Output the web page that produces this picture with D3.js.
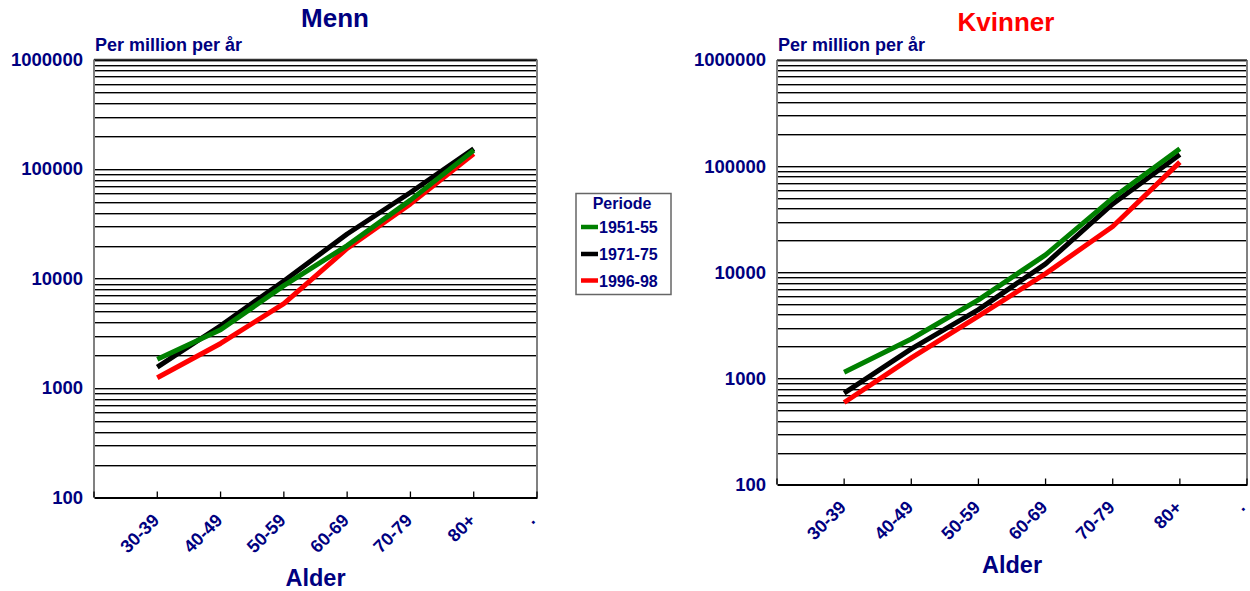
<!DOCTYPE html>
<html><head><meta charset="utf-8">
<script src="https://cdn.jsdelivr.net/npm/d3@7"></script>
<style>
html,body{margin:0;padding:0;background:#fff;}
svg text{font-family:"Liberation Sans",Arial,sans-serif;font-weight:bold;}
</style></head>
<body><svg id="c" width="1250" height="591"></svg>
<script>
const ageGroups = ["30-39","40-49","50-59","60-69","70-79","80+"];
const tickLabels = ["30-39","40-49","50-59","60-69","70-79","80+","."];
const periods = ["1951-55","1971-75","1996-98"];
const periodColors = ["#008000","#000000","#ff0000"];
const yTickValues = [100,1000,10000,100000,1000000];

const menn1951 = [1830, 3400, 8600, 20000, 52000, 148000];
const menn1971 = [1550, 3700, 9500, 25500, 61000, 153000];
const menn1996 = [1240, 2550, 5900, 18800, 48000, 138000];

const kvinner1951 = [1140, 2350, 5500, 14600, 50000, 146000];
const kvinner1971 = [725, 1900, 4450, 12000, 44000, 129000];
const kvinner1996 = [592, 1560, 3850, 9700, 27000, 109000];

const NAVY = "#000080";
const svg = d3.select("#c");

function panel(cfg){
  const g = svg.append("g");
  const x = d3.scaleLinear().domain([0, 7]).range([cfg.x0, cfg.x1]);
  const y = d3.scaleLog().domain([100, 1e6]).range([cfg.y1, cfg.y0]);

  // gridlines
  const grid = [];
  for (let d = 100; d < 1e6; d *= 10) for (let m = 1; m <= 9; m++) grid.push(d*m);
  grid.push(1e6);
  grid.filter(v => v > 100).forEach(v => {
    const yy = Math.round(y(v));
    g.append("line").attr("x1", cfg.x0).attr("x2", cfg.x1).attr("y1", yy+0.5).attr("y2", yy+0.5)
      .attr("stroke", "#000").attr("stroke-width", 1);
    g.append("line").attr("x1", cfg.x0).attr("x2", cfg.x1).attr("y1", yy+1.5).attr("y2", yy+1.5)
      .attr("stroke", "#999").attr("stroke-width", 1);
  });

  // frame
  g.append("line").attr("x1", cfg.x0).attr("x2", cfg.x0).attr("y1", cfg.y0).attr("y2", cfg.y1)
    .attr("stroke", "#808080").attr("stroke-width", 2);
  g.append("line").attr("x1", cfg.x1).attr("x2", cfg.x1).attr("y1", cfg.y0).attr("y2", cfg.y1)
    .attr("stroke", "#808080").attr("stroke-width", 2);
  g.append("line").attr("x1", cfg.x0).attr("x2", cfg.x1).attr("y1", cfg.y0).attr("y2", cfg.y0)
    .attr("stroke", "#333").attr("stroke-width", 1.5);

  // x axis
  const xAxis = d3.axisBottom(x).tickValues(d3.range(0, 8)).tickSize(0).tickFormat("");
  const ax = g.append("g").attr("transform", `translate(0,${cfg.y1})`).call(xAxis);
  ax.select(".domain").attr("stroke", "#000").attr("stroke-width", 2.2);
  d3.range(0, 8).forEach(i => {
    g.append("line").attr("x1", x(i)).attr("x2", x(i)).attr("y1", cfg.y1).attr("y2", cfg.y1 - 6)
      .attr("stroke", "#000").attr("stroke-width", 1.3);
  });
  tickLabels.forEach((t, i) => {
    const dx = (i === 6) ? -1 : 3;
    g.append("text").attr("transform", `translate(${x(i+1)+dx},${cfg.y1+24}) rotate(-45)`)
      .attr("text-anchor", "end").attr("fill", NAVY).attr("font-size", 18).text(t);
  });

  // y labels
  const yAxis = d3.axisLeft(y).tickValues(yTickValues).tickSize(0).tickFormat(d3.format("d"));
  const ay = g.append("g").attr("transform", `translate(${cfg.labelX},0)`).call(yAxis);
  ay.select(".domain").remove();
  ay.selectAll("text").attr("x", 0).attr("fill", NAVY).attr("font-size", 18.5)
    .style("font-family", '"Liberation Sans",Arial,sans-serif').style("font-weight", "bold");

  // series lines
  const line = d3.line().x((d, i) => x(i+1)).y(d => y(d));
  [2, 1, 0].forEach(k => {
    g.append("path").datum(cfg.series[k]).attr("d", line).attr("fill", "none")
      .attr("stroke", periodColors[k]).attr("stroke-width", 5).attr("stroke-linejoin", "round");
  });

  // texts
  g.append("text").attr("x", cfg.titleX).attr("y", cfg.titleY).attr("text-anchor", "middle")
    .attr("font-size", 26).attr("fill", cfg.titleColor).text(cfg.title);
  g.append("text").attr("x", cfg.x0 + 1).attr("y", 51).attr("font-size", 18).attr("fill", NAVY)
    .text("Per million per år");
  g.append("text").attr("x", (cfg.x0 + cfg.x1)/2).attr("y", cfg.alderY).attr("text-anchor", "middle")
    .attr("font-size", 23.5).attr("fill", NAVY).text("Alder");
}

panel({x0: 94, x1: 537, y0: 59.5, y1: 497.5, labelX: 83, title: "Menn", titleColor: NAVY,
  titleX: 335, titleY: 27, alderY: 586, series: [menn1951, menn1971, menn1996]});
panel({x0: 777, x1: 1247, y0: 60, y1: 484.5, labelX: 766, title: "Kvinner", titleColor: "#ff0000",
  titleX: 1006, titleY: 31, alderY: 573, series: [kvinner1951, kvinner1971, kvinner1996]});

// legend
const lg = svg.append("g");
lg.append("rect").attr("x", 576).attr("y", 193.5).attr("width", 95).attr("height", 101)
  .attr("fill", "#fff").attr("stroke", "#666").attr("stroke-width", 1.5);
lg.append("text").attr("x", 622).attr("y", 209).attr("text-anchor", "middle")
  .attr("font-size", 16).attr("fill", NAVY).text("Periode");
const legY = [227, 254, 280.5];
periods.forEach((p, i) => {
  lg.append("line").attr("x1", 581).attr("x2", 598).attr("y1", legY[i]).attr("y2", legY[i])
    .attr("stroke", periodColors[i]).attr("stroke-width", 4.5);
  lg.append("text").attr("x", 599).attr("y", legY[i] + 6).attr("font-size", 16)
    .attr("fill", NAVY).text(p);
});
</script></body></html>
